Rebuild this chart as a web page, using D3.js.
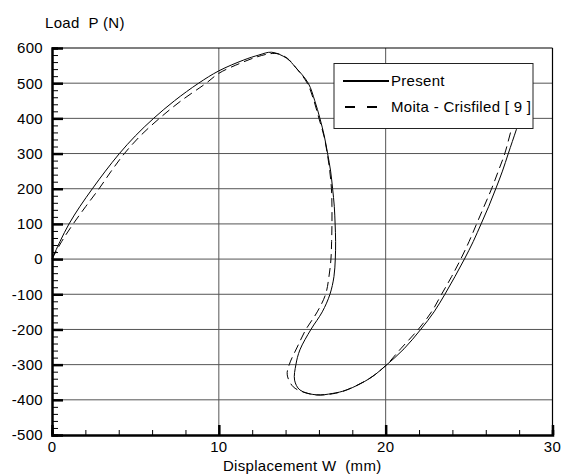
<!DOCTYPE html>
<html lang="en">
<head>
	<meta charset="utf-8">
	<title>Load - Displacement</title>
	<script type="text/javascript" src="https://d3js.org/d3.v7.min.js"></script>
	<style>
		body { margin: 0; background: #fff; }
		text { font-family: "Liberation Sans", Arial, sans-serif; font-size: 15px; fill: #000; letter-spacing: 0.3px; }
		.grid line { stroke: #555; stroke-width: 1; }
		.curve { fill: none; stroke: #000; stroke-width: 1; }
	</style>
</head>
<body>
	<div id="chart"></div>

	<script type="text/javascript">

		// Present
		var presentW = [0, 0.48, 1.02, 1.68, 2.42, 3.2, 4.04, 4.99, 6.09, 7.34, 8.79, 10.0, 11.5, 12.4, 13.16, 14.06, 14.6, 15.36, 15.75, 16.06, 16.32, 16.52, 16.7, 16.82, 16.92, 16.97, 17.0, 16.98, 16.9, 16.66, 16.2, 15.52, 14.86, 14.62, 14.54, 14.86, 15.86, 16.8, 17.66, 19.05, 20.0, 21.1, 22.1, 22.9, 23.55, 24.15, 24.72, 25.25, 25.72, 26.18, 26.6, 27.0, 27.35, 27.84, 28.2];
		var presentP = [0, 50, 100, 150, 200, 250, 300, 350, 400, 450, 500, 535, 566, 580, 588, 571, 545, 500, 450, 400, 350, 300, 250, 200, 150, 100, 50, 0, -50, -100, -150, -200, -258, -300, -344, -372, -386, -382, -372, -339, -303, -255, -200, -150, -100, -50, 0, 50, 100, 150, 200, 250, 300, 369, 420];

		// Moita - Crisfiled [9]
		var moitaW = [0, 0.58, 1.27, 2.03, 2.82, 3.55, 4.34, 5.29, 6.44, 7.74, 9.24, 10.0, 11.3, 12.3, 13.1, 13.6, 14.1, 14.6, 15.3, 15.7, 16.0, 16.3, 16.5, 16.65, 16.75, 16.78, 16.78, 16.76, 16.72, 16.6, 16.4, 15.9, 15.22, 14.7, 14.22, 14.1, 14.46, 15.2, 15.86, 16.8, 17.6, 19.0, 20.0, 20.9, 21.95, 22.75, 23.35, 23.95, 24.5, 25.0, 25.45, 25.9, 26.35, 26.75, 27.14, 27.54, 27.9];
		var moitaP = [0, 50, 100, 150, 200, 250, 300, 350, 400, 450, 500, 528, 557, 575, 584, 583, 571, 545, 500, 450, 400, 350, 300, 250, 200, 150, 100, 50, 0, -50, -100, -150, -200, -250, -300, -329, -363, -380, -386, -383, -373, -340, -303, -255, -200, -150, -100, -50, 0, 50, 100, 150, 200, 250, 300, 369, 420];

		var xTicks = [0, 10, 20, 30];
		var yTicks = [-500, -400, -300, -200, -100, 0, 100, 200, 300, 400, 500, 600];
		var legendNames = ["Present", "Moita - Crisfiled [ 9 ]"];

		var w = 561,
		    h = 474;

		var x = d3.scaleLinear().domain([0, 30]).range([52, 552.5]);
		var y = d3.scaleLinear().domain([-500, 600]).range([435, 48]);

		var svg = d3.select("#chart")
			.append("svg")
			.attr("width", w)
			.attr("height", h);

		// grid
		var grid = svg.append("g").attr("class", "grid");
		grid.selectAll(".hg")
			.data(yTicks.slice(1, -1))
			.enter()
			.append("line")
			.attr("x1", x(0)).attr("x2", x(30))
			.attr("y1", function(d) {return y(d);})
			.attr("y2", function(d) {return y(d);});
		grid.selectAll(".vg")
			.data(xTicks.slice(1, -1))
			.enter()
			.append("line")
			.attr("x1", function(d) {return x(d);})
			.attr("x2", function(d) {return x(d);})
			.attr("y1", y(600)).attr("y2", y(-500));

		// frame top / right
		svg.append("line").attr("x1", x(0)).attr("x2", x(30)).attr("y1", y(600)).attr("y2", y(600))
			.attr("stroke", "#000").attr("stroke-width", 1.2);
		svg.append("line").attr("x1", x(30)).attr("x2", x(30)).attr("y1", y(600)).attr("y2", y(-500))
			.attr("stroke", "#000").attr("stroke-width", 1.2);

		// y axis
		var yAxis = svg.append("g")
			.attr("transform", "translate(" + x(0) + ",0)")
			.call(d3.axisRight(y).tickValues(d3.range(-500, 601, 20)).tickSize(6).tickFormat(""));
		yAxis.select(".domain").attr("stroke", "#000").attr("stroke-width", 2.5);
		yAxis.selectAll(".tick line")
			.attr("stroke", "#000")
			.attr("stroke-width", function(d) {return d % 100 === 0 ? 2.5 : 1;})
			.attr("x2", function(d) {return d % 100 === 0 ? 11 : 6;});

		svg.selectAll(".ylab")
			.data(yTicks)
			.enter()
			.append("text")
			.attr("x", 43)
			.attr("y", function(d) {return y(d);})
			.attr("dy", "0.36em")
			.attr("text-anchor", "end")
			.text(function(d) {return d;});

		// x axis
		var xAxis = svg.append("g")
			.attr("transform", "translate(0," + y(-500) + ")")
			.call(d3.axisTop(x).tickValues(d3.range(0, 31, 2)).tickSize(5).tickFormat(""));
		xAxis.select(".domain").attr("stroke", "#000").attr("stroke-width", 2.5);
		xAxis.selectAll(".tick line")
			.attr("stroke", "#000")
			.attr("stroke-width", function(d) {return d % 10 === 0 ? 2.5 : 1;})
			.attr("y2", function(d) {return d % 10 === 0 ? -10 : -5;});

		svg.selectAll(".xlab")
			.data(xTicks)
			.enter()
			.append("text")
			.attr("x", function(d) {return x(d);})
			.attr("y", 452)
			.attr("text-anchor", "middle")
			.text(function(d) {return d;});

		// titles
		svg.append("text").attr("x", 45).attr("y", 28).text("Load  P (N)").style("white-space", "pre");
		svg.append("text").attr("x", (x(0) + x(30)) / 2).attr("y", 470.5)
			.attr("text-anchor", "middle").style("white-space", "pre").text("Displacement W  (mm)");

		// curves
		var line = d3.line()
			.x(function(d) {return x(d[0]);})
			.y(function(d) {return y(d[1]);})
			.curve(d3.curveCatmullRom.alpha(0.5));

		svg.append("path")
			.attr("class", "curve")
			.attr("d", line(d3.zip(presentW, presentP)));
		svg.append("path")
			.attr("class", "curve")
			.attr("stroke-dasharray", "9,5")
			.attr("d", line(d3.zip(moitaW, moitaP)));

		// legend
		var lg = svg.append("g");
		lg.append("rect")
			.attr("x", 334).attr("y", 63.5)
			.attr("width", 199).attr("height", 65)
			.attr("fill", "#fff").attr("stroke", "#222").attr("stroke-width", 1);
		lg.append("line").attr("x1", 343).attr("x2", 389).attr("y1", 81).attr("y2", 81)
			.attr("stroke", "#000").attr("stroke-width", 2);
		lg.append("line").attr("x1", 345).attr("x2", 378).attr("y1", 107).attr("y2", 107)
			.attr("stroke", "#000").attr("stroke-width", 2).attr("stroke-dasharray", "10,12");
		lg.selectAll(".lt")
			.data(legendNames)
			.enter()
			.append("text")
			.attr("x", 391)
			.attr("y", function(d, i) {return 81 + 26 * i;})
			.attr("dy", "0.36em")
			.text(function(d) {return d;});

	</script>
</body>
</html>
